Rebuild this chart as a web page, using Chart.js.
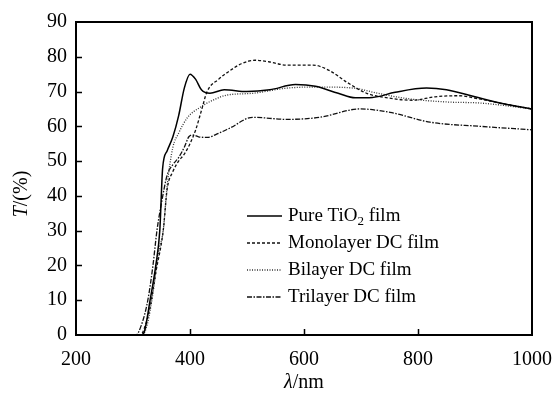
<!DOCTYPE html>
<html>
<head>
<meta charset="utf-8">
<script src="https://cdn.jsdelivr.net/npm/chart.js@4.4.0/dist/chart.umd.min.js"></script>
<style>
  html, body { margin: 0; padding: 0; background: #fff; }
  #wrap { width: 557px; height: 394px; }
</style>
</head>
<body>
<div id="wrap"><canvas id="chart" width="557" height="394"></canvas></div>
<script>
// transmittance spectra
const seriesLabels = ['Pure TiO₂ film', 'Monolayer DC film', 'Bilayer DC film', 'Trilayer DC film'];

const pureX = [300,315,320,330,340,347,352,360,370,380,390,400,410,420,435,460,500,540,585,620,660,690,720,760,815,850,900,950,1000];
const pureY = [0,0,1,10,20,30,48,53,57,63,71,75,73.5,70.5,69.5,70.5,70,70.5,72,71.5,69.5,68.2,68.3,69.8,71,70.5,68.5,66.5,65];

const monoX = [300,313,320,330,340,353,360,370,380,390,400,410,420,430,450,470,490,514,540,570,616,645,675,710,750,790,830,870,910,950,1000];
const monoY = [0,0,2,8,18,30,42,47,50,52,55,59,64.5,70,73.5,76,78,79,78.5,77.6,77.6,76,72.7,69.5,68.1,67.5,68.5,68.8,67.8,66.5,65];

const biX = [300,316,325,335,345,353,360,370,380,395,418,440,465,510,570,628,686,730,780,851,909,1000];
const biY = [0,0,3,12,24,30,43,54,58,62.4,65.5,67.5,69,69.5,71,71.3,71,69.5,68,67,66.7,65];

const triX = [300,305,315,326,335,342,350,360,370,380,390,398,405,415,430,450,470,510,570,628,698,751,821,909,1000];
const triY = [0,0,3,10,20,30,38,46,49,51,54,57,57.5,57,56.8,58,59.5,62.6,62,62.6,65,64,61.2,60,59];

const xTicks = [200, 400, 600, 800, 1000];
const yTicks = [0, 10, 20, 30, 40, 50, 60, 70, 80, 90];

const SERIF = '"Liberation Serif", "Times New Roman", serif';

function pts(xs, ys) {
  return xs.map((x, i) => ({ x: x, y: ys[i] }));
}

const styles = [
  { width: 1.5, dash: [] , color: '#000' },
  { width: 1.3, dash: [3, 2], color: '#111' },
  { width: 1.3, dash: [1, 1.5], color: '#333' },
  { width: 1.3, dash: [5, 1.5, 1.5, 1.5], color: '#111' }
];
const allX = [pureX, monoX, biX, triX];
const allY = [pureY, monoY, biY, triY];

const datasets = seriesLabels.map((lab, i) => ({
  label: lab,
  data: pts(allX[i], allY[i]),
  borderColor: styles[i].color,
  borderWidth: styles[i].width,
  borderDash: styles[i].dash,
  pointRadius: 0,
  fill: false,
  cubicInterpolationMode: 'monotone'
}));

// frame, inward ticks, axis titles and the legend
const decor = {
  id: 'decor',
  afterDraw(chart) {
    const c = chart.ctx;
    const a = chart.chartArea;
    const xs = chart.scales.x, ys = chart.scales.y;
    c.save();
    c.strokeStyle = '#000';
    c.lineWidth = 2;
    c.setLineDash([]);
    c.strokeRect(a.left, a.top, a.right - a.left, a.bottom - a.top);

    c.lineWidth = 1.5;
    c.beginPath();
    yTicks.forEach(v => {
      const y = Math.round(ys.getPixelForValue(v)) + 0.5;
      if (v === 0 || v === 90) return;
      c.moveTo(a.left, y); c.lineTo(a.left + 6, y);
    });
    xTicks.forEach(v => {
      if (v === 200 || v === 1000) return;
      const x = Math.round(xs.getPixelForValue(v)) + 0.5;
      c.moveTo(x, a.bottom); c.lineTo(x, a.bottom - 6);
    });
    c.stroke();

    // axis titles
    c.fillStyle = '#000';
    c.textBaseline = 'middle';
    c.save();
    c.translate(22, 194);
    c.rotate(-Math.PI / 2);
    c.font = 'italic 20px ' + SERIF;
    const wT = c.measureText('T').width;
    c.font = '20px ' + SERIF;
    const wR = c.measureText('/(%)').width;
    let sx = -(wT + wR) / 2;
    c.font = 'italic 20px ' + SERIF;
    c.textAlign = 'left';
    c.fillText('T', sx, 0);
    c.font = '20px ' + SERIF;
    c.fillText('/(%)', sx + wT, 0);
    c.restore();

    c.font = 'italic 20px ' + SERIF;
    const wL = c.measureText('λ').width;
    c.font = '20px ' + SERIF;
    const wN = c.measureText('/nm').width;
    let bx = (a.left + a.right) / 2 - (wL + wN) / 2;
    c.textAlign = 'left';
    c.font = 'italic 20px ' + SERIF;
    c.fillText('λ', bx, 383);
    c.font = '20px ' + SERIF;
    c.fillText('/nm', bx + wL, 383);

    // legend
    const lx0 = 247, lx1 = 282, tx = 288, ly0 = 216, gap = 27;
    chart.data.datasets.forEach((ds, i) => {
      const y = ly0 + i * gap;
      c.strokeStyle = ds.borderColor;
      c.lineWidth = ds.borderWidth;
      c.setLineDash(ds.borderDash);
      c.beginPath();
      c.moveTo(lx0, y); c.lineTo(lx1, y);
      c.stroke();
      c.setLineDash([]);
      c.font = '19px ' + SERIF;
      c.fillStyle = '#000';
      const parts = ds.label.split('₂');
      if (parts.length > 1) {
        c.fillText(parts[0], tx, y);
        let w = c.measureText(parts[0]).width;
        c.font = '13px ' + SERIF;
        c.fillText('2', tx + w, y + 6);
        w += c.measureText('2').width;
        c.font = '19px ' + SERIF;
        c.fillText(parts[1], tx + w, y);
      } else {
        c.fillText(ds.label, tx, y);
      }
    });
    c.restore();
  }
};

new Chart(document.getElementById('chart'), {
  type: 'line',
  data: { datasets: datasets },
  options: {
    responsive: false,
    animation: false,
    layout: { padding: { top: 22, right: 25, left: 0, bottom: 0 } },
    plugins: { legend: { display: false }, tooltip: { enabled: false } },
    scales: {
      x: {
        type: 'linear',
        min: 200, max: 1000,
        afterBuildTicks: s => { s.ticks = xTicks.map(v => ({ value: v })); },
        afterFit: s => { s.height = 59; s.paddingLeft = 0; s.paddingRight = 0; },
        grid: { display: false, drawTicks: false },
        border: { display: false },
        ticks: { color: '#000', padding: 13, maxRotation: 0, callback: v => String(v), font: { family: SERIF, size: 20 } }
      },
      y: {
        min: 0, max: 90,
        afterBuildTicks: s => { s.ticks = yTicks.map(v => ({ value: v })); },
        afterFit: s => { s.width = 76; s.paddingTop = 0; s.paddingBottom = 0; },
        grid: { display: false, drawTicks: false },
        border: { display: false },
        ticks: { color: '#000', padding: 9, callback: v => String(v), font: { family: SERIF, size: 20 } }
      }
    }
  },
  plugins: [decor]
});
</script>
</body>
</html>
